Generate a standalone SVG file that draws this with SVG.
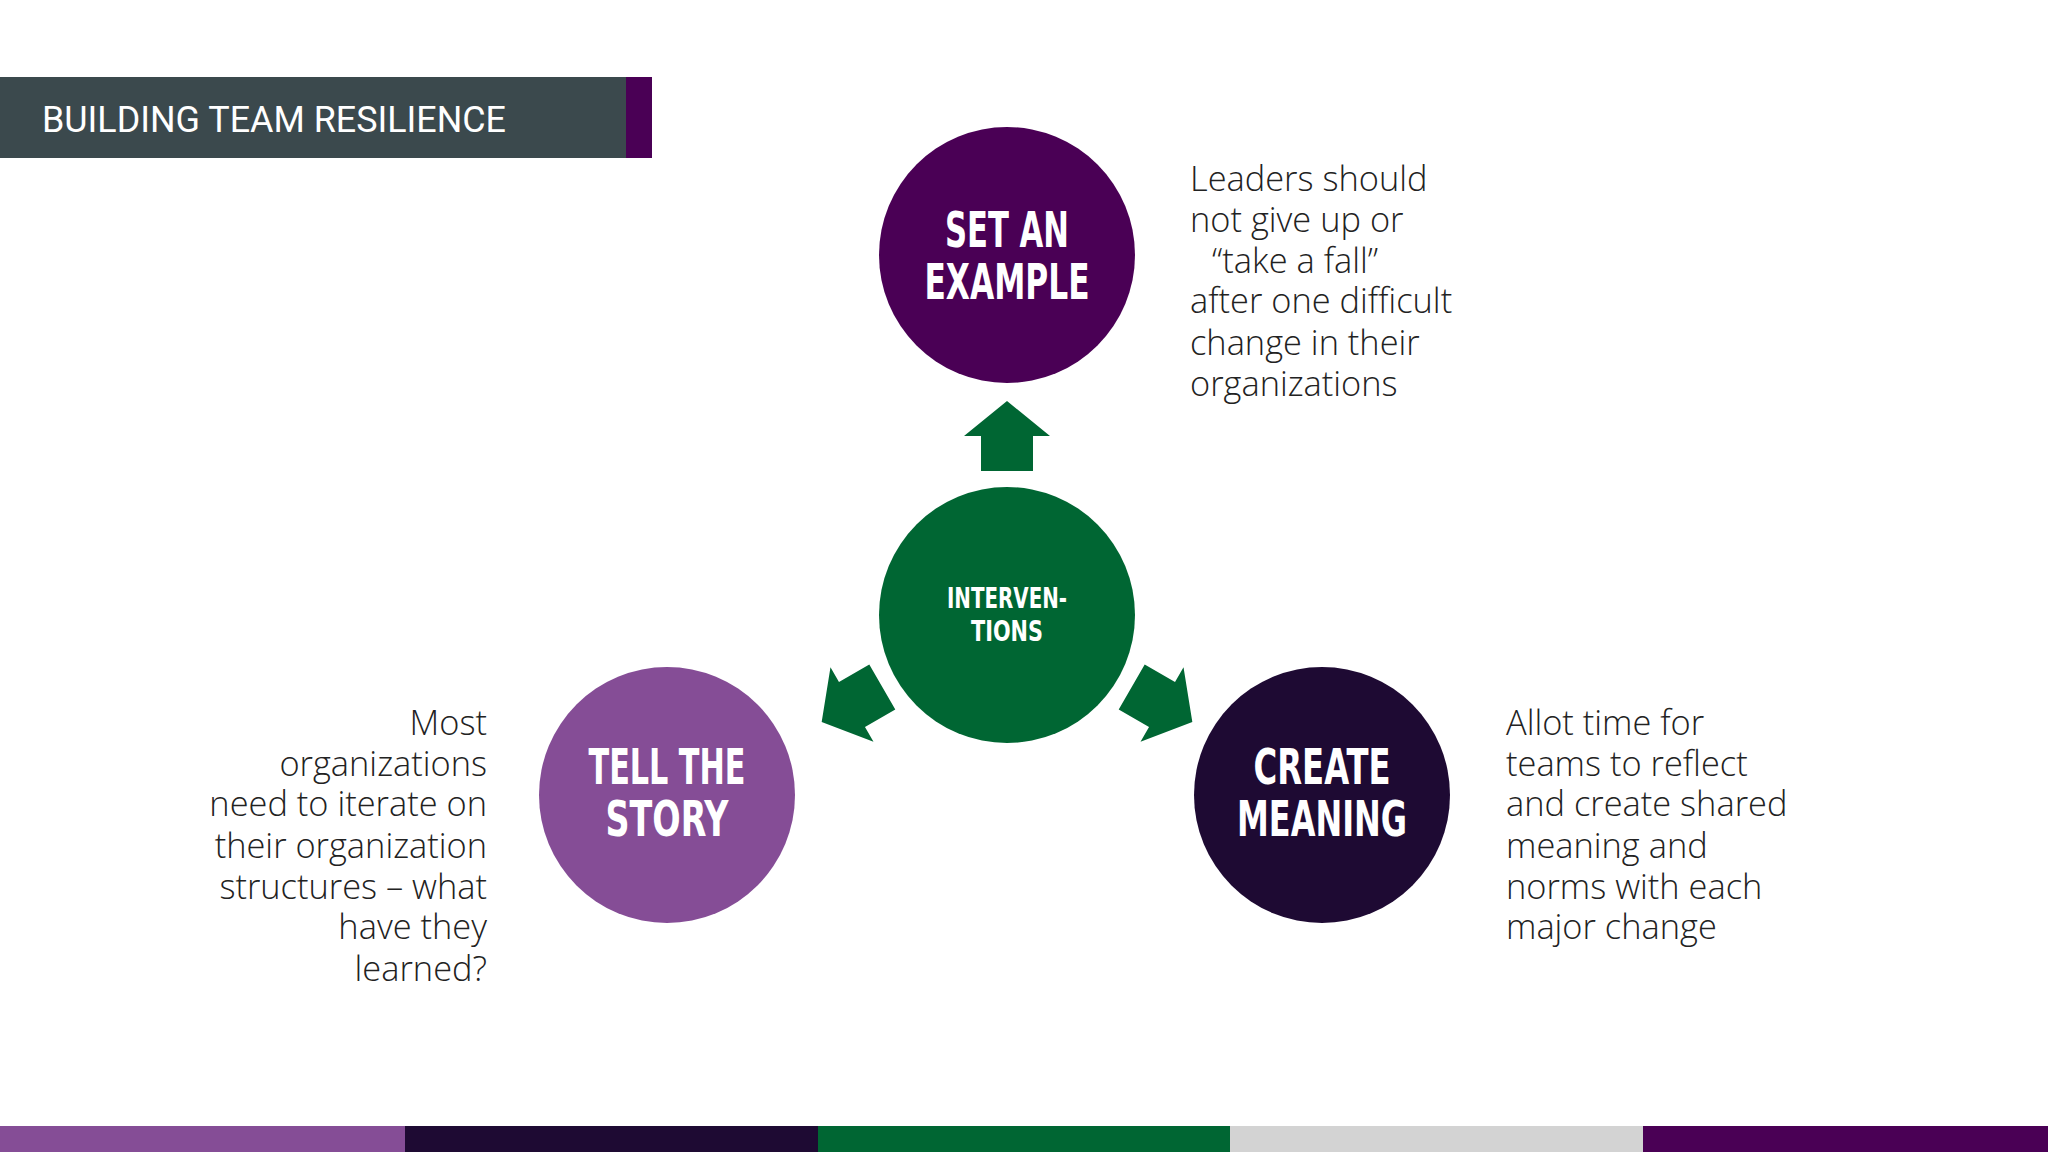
<svg xmlns="http://www.w3.org/2000/svg" width="2048" height="1152" viewBox="0 0 2048 1152">
<style>
.lbl{font-family:"DejaVu Sans Condensed","DejaVu Sans",sans-serif;font-weight:bold;fill:#fff;text-anchor:middle}
.body{font-family:"Open Sans","Noto Sans",sans-serif;font-weight:300;font-size:34.4px;fill:#222}
.arr{fill:#006633}
</style>
<rect width="2048" height="1152" fill="#fff"/>
<g id="title">
<rect x="0" y="77" width="626" height="81" fill="#3b494d"/>
<rect x="626" y="77" width="26" height="81" fill="#4a0055"/>
<text x="42" y="132" font-family="Roboto,sans-serif" font-size="37" fill="#fff" textLength="464" lengthAdjust="spacingAndGlyphs">BUILDING TEAM RESILIENCE</text>
</g>
<g id="connectors">
<path id="arrow-up" class="arr" d="M1007,401 L1050,436 L1033,436 L1033,471 L981,471 L981,436 L964,436 Z"/>
<use href="#arrow-up" transform="rotate(120 1007 615)"/>
<use href="#arrow-up" transform="rotate(-120 1007 615)"/>
</g>
<g id="set-an-example">
<circle cx="1007" cy="255" r="128" fill="#4a0055"/>
<text class="lbl" x="1007" y="247" font-size="50" textLength="124" lengthAdjust="spacingAndGlyphs">SET AN</text>
<text class="lbl" x="1007" y="299" font-size="50" textLength="165" lengthAdjust="spacingAndGlyphs">EXAMPLE</text>
</g>
<g id="interventions">
<circle cx="1007" cy="615" r="128" fill="#006633"/>
<text class="lbl" x="1007" y="608" font-size="29" textLength="120" lengthAdjust="spacingAndGlyphs">INTERVEN-</text>
<text class="lbl" x="1007" y="641" font-size="29" textLength="72" lengthAdjust="spacingAndGlyphs">TIONS</text>
</g>
<g id="tell-the-story">
<circle cx="667" cy="795" r="128" fill="#854d96"/>
<text class="lbl" x="667" y="784" font-size="50" textLength="157" lengthAdjust="spacingAndGlyphs">TELL THE</text>
<text class="lbl" x="667" y="836" font-size="50" textLength="123" lengthAdjust="spacingAndGlyphs">STORY</text>
</g>
<g id="create-meaning">
<circle cx="1322" cy="795" r="128" fill="#1e0a33"/>
<text class="lbl" x="1322" y="784" font-size="50" textLength="137" lengthAdjust="spacingAndGlyphs">CREATE</text>
<text class="lbl" x="1322" y="836" font-size="50" textLength="170" lengthAdjust="spacingAndGlyphs">MEANING</text>
</g>
<g id="text-top" class="body">
<text x="1190" y="191">Leaders should</text>
<text x="1190" y="232">not give up or</text>
<text x="1212" y="273">“take a fall”</text>
<text x="1190" y="313">after one difficult</text>
<text x="1190" y="355">change in their</text>
<text x="1190" y="396">organizations</text>
</g>
<g id="text-left" class="body" text-anchor="end">
<text x="487" y="735">Most</text>
<text x="487" y="776">organizations</text>
<text x="487" y="816">need to iterate on</text>
<text x="487" y="858">their organization</text>
<text x="487" y="899">structures – what</text>
<text x="487" y="939">have they</text>
<text x="487" y="981">learned?</text>
</g>
<g id="text-right" class="body">
<text x="1506" y="735">Allot time for</text>
<text x="1506" y="776">teams to reflect</text>
<text x="1506" y="816">and create shared</text>
<text x="1506" y="858">meaning and</text>
<text x="1506" y="899">norms with each</text>
<text x="1506" y="939">major change</text>
</g>
<g id="footer">
<rect x="0" y="1126" width="405" height="26" fill="#854d96"/>
<rect x="405" y="1126" width="413" height="26" fill="#1e0a33"/>
<rect x="818" y="1126" width="412" height="26" fill="#006633"/>
<rect x="1230" y="1126" width="413" height="26" fill="#d3d3d3"/>
<rect x="1643" y="1126" width="405" height="26" fill="#4a0055"/>
</g>
</svg>
